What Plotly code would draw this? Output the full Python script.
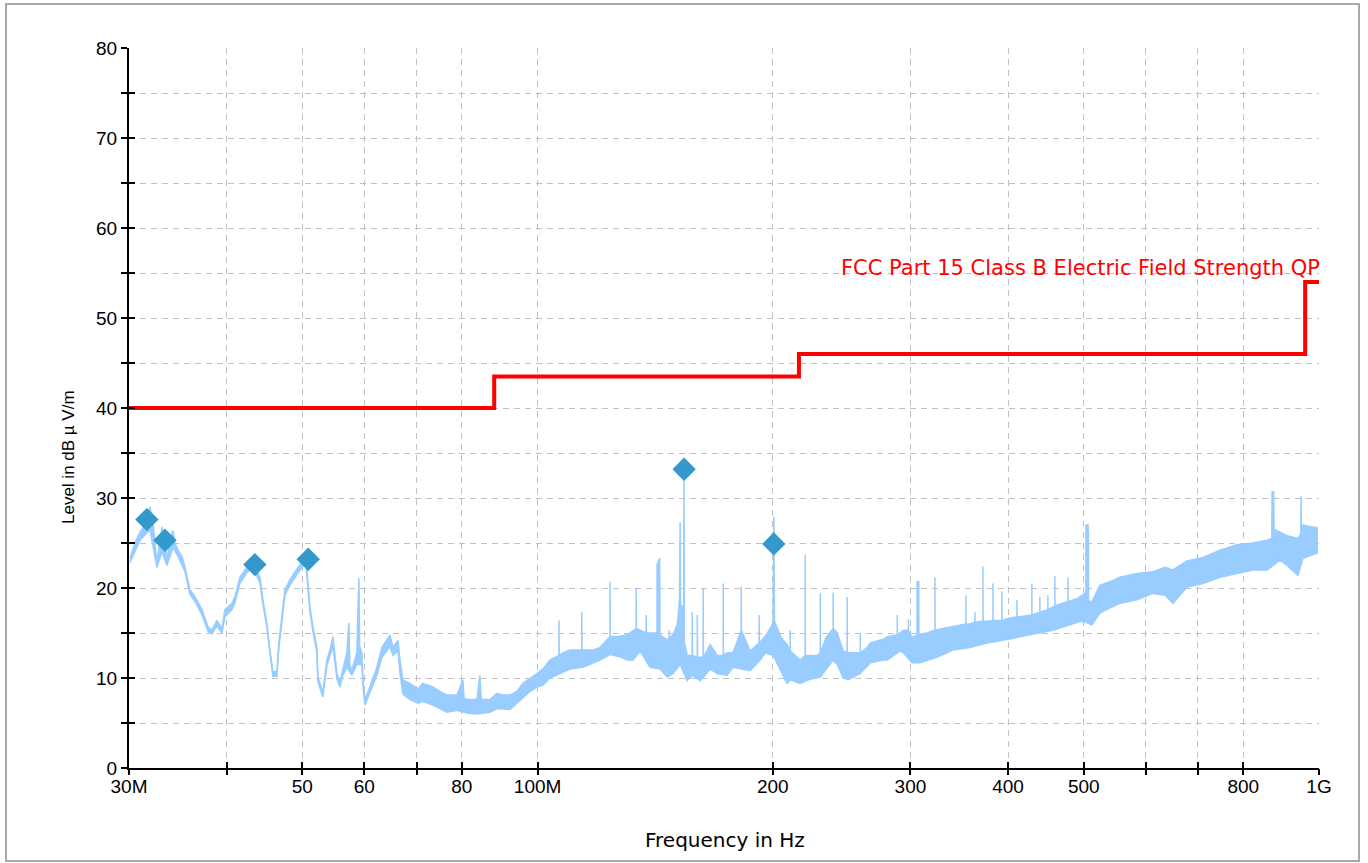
import math
import plotly.graph_objects as go

# ---------------- data (frequencies in MHz, levels in dBuV/m) ----------------
upper_freq_mhz = [
    30.09, 30.53, 30.99, 31.44, 31.91, 32.19, 32.57, 32.86, 33.06, 33.35, 33.55, 33.85,
    34.15, 34.36, 34.66, 35.07, 35.38, 35.90, 36.44, 37.20, 37.86, 38.30, 38.87, 39.45,
    39.80, 40.62, 40.98, 41.59, 42.45, 43.21, 44.12, 44.51, 45.04, 45.44, 45.84, 46.38,
    46.65, 47.07, 47.49, 48.19, 48.91, 49.63, 50.52, 51.12, 51.58, 52.19, 52.34, 53.12,
    53.75, 54.23, 54.71, 55.36, 55.85, 56.35, 57.01, 57.34, 57.50, 57.86, 58.71, 58.90,
    59.06, 59.20, 59.59, 59.77, 60.12, 61.01, 62.28, 63.21, 64.72, 65.30, 66.27, 66.66,
    67.25, 68.65, 70.28, 71.32, 73.45, 74.98, 76.55, 78.85, 80.24, 80.50, 81.20, 83.63,
    84.37, 84.70, 86.89, 88.71, 90.28, 92.18, 94.10, 95.78, 97.78, 99.81, 101.6, 103.7,
    106.5, 106.5, 106.6, 107.7, 110.0, 113.9, 113.9, 114.0, 117.7, 120.2, 123.8, 123.8,
    123.9, 127.0, 130.2, 133.7, 133.7, 133.8, 135.3, 137.7, 137.7, 137.8, 139.3, 142.2,
    142.2, 143.3, 143.4, 146.5, 147.4, 147.4, 147.5, 149.1, 151.0, 151.9, 152.2, 152.4,
    153.8, 153.95, 154.1, 155.4, 157.7, 157.7, 157.8, 160.1, 160.1, 160.2, 161.5, 162.9,
    162.9, 163.0, 166.3, 169.8, 172.8, 172.8, 172.9, 174.8, 177.9, 182.2, 182.2, 182.3,
    187.1, 192.1, 192.1, 192.2, 195.6, 200.2, 200.6, 201.0, 205.0, 208.6, 210.5, 210.5,
    210.6, 216.8, 220.0, 220.0, 220.1, 228.0, 230.0, 230.0, 230.1, 234.0, 238.9, 238.9,
    239.0, 241.8, 246.1, 249.0, 249.0, 249.1, 254.0, 258.8, 258.8, 258.9, 264.2, 266.6,
    276.9, 280.3, 288.6, 288.6, 288.7, 293.8, 298.2, 298.2, 298.3, 301.4, 305.9, 305.9,
    307.5, 307.6, 315.0, 322.5, 322.5, 322.6, 330.0, 340.1, 353.3, 353.3, 353.4, 357.5,
    362.8, 362.8, 362.9, 371.5, 371.5, 371.6, 375.9, 382.6, 382.6, 382.7, 392.8, 392.8,
    392.9, 400.0, 410.6, 410.6, 410.7, 414.2, 429.1, 429.1, 429.2, 435.4, 439.3, 439.3,
    439.4, 449.8, 449.8, 449.9, 456.5, 459.2, 459.2, 459.3, 470.0, 477.2, 477.2, 477.3,
    490.0, 500.0, 503.2, 503.2, 506.2, 507.0, 507.1, 512.2, 524.4, 540.1, 556.3, 584.9,
    613.2, 635.2, 650.4, 677.8, 710.5, 747.0, 785.4, 823.3, 858.0, 870.0, 871.0, 875.0,
    876.0, 891.5, 910.1, 939.9, 947.6, 948.4, 949.2, 953.9, 975.0, 997.0,
]
upper_level_db = [
    23.3, 25.0, 26.2, 27.0, 29.0, 27.5, 22.8, 25.0, 26.8, 25.2, 23.0, 25.5,
    26.4, 25.0, 24.2, 23.5, 22.3, 19.8, 19.0, 17.6, 15.7, 15.3, 16.4, 15.5,
    17.6, 18.3, 19.0, 21.2, 22.3, 22.9, 21.2, 18.7, 16.1, 13.1, 10.7, 10.7,
    13.9, 16.8, 19.8, 20.9, 21.8, 22.6, 23.4, 17.9, 15.7, 13.4, 10.1, 8.4,
    12.0, 13.1, 14.6, 10.5, 9.6, 10.9, 12.8, 16.1, 11.5, 10.9, 12.8, 17.6,
    21.1, 13.5, 12.8, 9.8, 7.6, 9.0, 11.2, 13.4, 14.8, 13.4, 14.2, 12.0,
    9.8, 9.4, 8.8, 9.4, 9.0, 8.5, 8.1, 8.1, 9.8, 7.8, 7.6, 7.6,
    10.3, 7.6, 7.6, 8.3, 8.1, 8.1, 8.5, 9.4, 10.0, 10.5, 11.0, 12.0,
    12.5, 16.4, 12.5, 12.8, 13.1, 13.1, 17.3, 13.1, 13.1, 13.4, 14.6, 20.7,
    14.6, 14.6, 14.8, 15.5, 20.0, 15.5, 15.3, 15.0, 17.0, 15.0, 15.0, 15.0,
    22.6, 23.3, 14.8, 14.2, 14.5, 15.3, 14.5, 14.8, 16.0, 18.7, 27.3, 18.0,
    18.0, 33.2, 14.0, 12.5, 12.5, 17.3, 12.5, 12.3, 17.0, 12.3, 12.3, 12.3,
    20.0, 12.3, 13.7, 12.5, 12.5, 20.5, 12.5, 12.8, 12.8, 15.3, 20.1, 15.3,
    13.0, 13.9, 17.0, 13.9, 14.6, 16.1, 27.9, 16.3, 14.5, 13.7, 13.0, 15.3,
    13.0, 12.0, 12.5, 23.7, 12.5, 12.5, 12.8, 19.4, 12.8, 14.5, 15.5, 19.5,
    15.5, 15.0, 13.0, 12.8, 19.0, 12.8, 12.8, 12.8, 15.0, 12.8, 13.4, 13.9,
    14.3, 14.6, 14.8, 17.0, 14.8, 15.3, 15.3, 16.5, 15.3, 14.5, 14.8, 20.7,
    20.7, 14.8, 15.0, 15.3, 21.2, 15.3, 15.5, 15.7, 16.0, 19.2, 16.0, 16.0,
    16.2, 17.3, 16.2, 16.3, 22.4, 16.3, 16.3, 16.4, 20.5, 16.4, 16.4, 19.6,
    16.4, 16.6, 16.8, 18.7, 16.8, 16.8, 17.0, 20.5, 17.0, 17.2, 17.3, 19.0,
    17.3, 17.6, 19.2, 17.6, 17.9, 18.0, 21.3, 18.0, 18.3, 18.5, 21.2, 18.5,
    18.8, 19.3, 19.5, 27.0, 27.0, 26.0, 18.5, 18.5, 20.3, 20.7, 21.2, 21.6,
    21.8, 22.3, 22.0, 23.0, 23.4, 24.2, 24.8, 25.0, 25.3, 25.5, 30.7, 30.7,
    26.5, 26.2, 25.8, 25.5, 26.0, 30.2, 26.5, 27.0, 26.8, 26.7,
]

lower_freq_mhz = [
    30.09, 30.99, 31.91, 32.57, 33.06, 33.55, 34.15, 34.66, 35.38, 35.90, 36.44, 37.20,
    37.86, 38.30, 38.87, 39.45, 39.80, 40.62, 40.98, 41.59, 42.45, 43.21, 44.12, 44.51,
    45.04, 45.44, 45.84, 46.38, 46.65, 47.07, 47.49, 48.19, 48.91, 49.63, 50.52, 51.12,
    51.58, 52.19, 52.34, 53.12, 53.75, 54.23, 54.71, 55.36, 55.85, 56.35, 57.01, 57.86,
    58.71, 59.59, 59.77, 60.12, 61.01, 62.28, 63.21, 64.72, 65.30, 66.27, 66.66, 67.25,
    68.65, 70.28, 71.32, 73.45, 74.98, 76.55, 78.85, 81.20, 83.63, 86.89, 88.71, 92.18,
    94.10, 95.78, 97.78, 99.81, 101.6, 103.7, 107.7, 110.0, 114.3, 117.7, 120.2, 123.8,
    127.0, 130.2, 132.5, 135.3, 139.3, 143.5, 146.5, 149.1, 152.2, 155.4, 157.7, 161.5,
    166.3, 169.8, 174.8, 177.9, 182.2, 187.1, 192.7, 195.6, 200.2, 204.0, 208.6, 210.5,
    216.8, 222.0, 230.0, 238.9, 241.8, 246.1, 249.8, 258.8, 266.6, 276.9, 280.3, 291.2,
    293.8, 301.4, 308.6, 324.4, 340.1, 357.5, 375.9, 394.0, 414.2, 435.4, 456.5, 480.0,
    494.4, 503.2, 512.2, 524.4, 540.1, 556.3, 584.9, 613.2, 635.2, 650.4, 677.8, 710.5,
    747.0, 785.4, 823.3, 858.0, 891.5, 910.1, 939.9, 953.9, 997.0,
]
lower_level_db = [
    22.8, 25.3, 26.5, 22.3, 24.0, 22.5, 24.5, 23.5, 21.8, 19.3, 18.5, 17.0,
    15.2, 14.9, 15.8, 15.0, 16.8, 17.6, 18.3, 20.5, 21.7, 22.3, 20.6, 18.2,
    15.6, 12.6, 10.2, 10.2, 13.3, 16.2, 19.2, 20.3, 21.2, 22.0, 22.8, 17.4,
    15.2, 12.8, 9.6, 7.9, 11.4, 12.5, 13.5, 9.9, 9.0, 10.3, 11.2, 10.3,
    11.5, 11.5, 9.2, 7.0, 8.3, 10.3, 12.3, 13.5, 12.5, 13.0, 10.5, 8.2,
    7.6, 7.2, 7.4, 7.0, 6.6, 6.2, 6.4, 6.1, 6.0, 6.2, 6.6, 6.5,
    7.2, 7.8, 8.5, 9.0, 9.2, 10.0, 10.6, 11.0, 11.2, 11.7, 12.0, 12.6,
    12.4, 12.0, 12.0, 13.0, 11.2, 11.0, 10.1, 10.5, 11.5, 9.7, 10.3, 9.7,
    11.0, 10.5, 10.3, 11.2, 11.0, 10.8, 12.0, 12.8, 12.5, 11.0, 9.4, 9.8,
    9.4, 9.8, 10.1, 12.0, 11.5, 10.0, 9.8, 10.5, 11.7, 12.0, 12.0, 13.0,
    12.8, 11.7, 11.7, 12.3, 13.1, 13.4, 13.9, 14.2, 14.6, 15.0, 15.3, 15.9,
    16.3, 16.2, 15.9, 17.2, 17.8, 18.3, 18.7, 19.4, 19.2, 18.3, 20.1, 20.5,
    21.2, 21.6, 22.0, 22.0, 23.1, 22.5, 21.4, 23.3, 23.9,
]

marker_freq_mhz = [31.62, 33.35, 43.47, 50.87, 154.0, 200.6]
marker_level_db = [27.6, 25.3, 22.6, 23.2, 33.2, 24.9]

limit_freq_mhz = [30, 88, 216, 960, 1000]
limit_level_db = [40, 43.5, 46, 54, 54]
limit_name = "FCC Part 15 Class B Electric Field Strength QP"

x_tick_vals = [30, 40, 50, 60, 70, 80, 100, 200, 300, 400, 500, 600, 700, 800, 1000]
x_tick_text = ["30M", "", "50", "60", "", "80", "100M", "200", "300", "400", "500", "", "", "800", "1G"]
y_tick_vals = [0, 5, 10, 15, 20, 25, 30, 35, 40, 45, 50, 55, 60, 65, 70, 75, 80]
y_tick_text = ["0", "", "10", "", "20", "", "30", "", "40", "", "50", "", "60", "", "70", "", "80"]

# ---------------- figure ----------------
FONT = "Liberation Sans, Arial, sans-serif"
WIDE = "DejaVu Sans, Verdana, sans-serif"
TRACE_BLUE = "#99ccff"
MARK_BLUE = "#3399cc"
GRID = "#c0c0c0"

fig = go.Figure()
fig.add_trace(go.Scatter(
    x=lower_freq_mhz, y=lower_level_db, mode="lines",
    line=dict(color=TRACE_BLUE, width=1.5), showlegend=False, hoverinfo="skip"))
fig.add_trace(go.Scatter(
    x=upper_freq_mhz, y=upper_level_db, mode="lines",
    line=dict(color=TRACE_BLUE, width=1.5), fill="tonexty", fillcolor=TRACE_BLUE,
    showlegend=False, name="Level"))
fig.add_trace(go.Scatter(
    x=limit_freq_mhz, y=limit_level_db, mode="lines",
    line=dict(color="#ff0000", width=4, shape="hv"), showlegend=False, name=limit_name))
fig.add_trace(go.Scatter(
    x=marker_freq_mhz, y=marker_level_db, mode="markers", xaxis="x2", yaxis="y2",
    marker=dict(symbol="diamond", size=18, color=MARK_BLUE, line=dict(width=0)),
    showlegend=False, name="Final"))

xr = [math.log10(30), math.log10(1000)]
common_x = dict(type="log", range=xr, tickvals=x_tick_vals, zeroline=False)
common_y = dict(range=[0, 80], tickvals=y_tick_vals, zeroline=False)

fig.update_layout(
    width=1368, height=863,
    margin=dict(l=129, r=49, t=48, b=95),
    paper_bgcolor="white", plot_bgcolor="white",
    font=dict(family=FONT, color="black", size=18),
    xaxis=dict(**common_x, ticktext=x_tick_text, ticks="inside", ticklen=6, tickwidth=2,
               tickcolor="black", showline=True, linewidth=2, linecolor="black",
               showgrid=True, gridcolor=GRID, gridwidth=1, griddash="6px,5px",
               tickfont=dict(size=19, family=FONT)),
    yaxis=dict(**common_y, ticktext=y_tick_text, ticks="outside", ticklen=6, tickwidth=2,
               tickcolor="black", showline=True, linewidth=2, linecolor="black",
               showgrid=True, gridcolor=GRID, gridwidth=1, griddash="6px,5px",
               tickfont=dict(size=19, family=FONT)),
    xaxis2=dict(**common_x, overlaying="x", anchor="y2", side="bottom", ticks="outside",
                ticklen=6, tickwidth=2, tickcolor="black", showticklabels=False,
                showgrid=False, showline=False),
    yaxis2=dict(**common_y, overlaying="y", anchor="x2", side="left", ticks="inside",
                ticklen=6, tickwidth=2, tickcolor="black", showticklabels=False,
                showgrid=False, showline=False),
    shapes=[dict(type="rect", xref="paper", yref="paper",
                 x0=(6 - 129) / 1190, x1=(1359 - 129) / 1190,
                 y0=(768 - 861) / 720, y1=(768 - 4) / 720,
                 line=dict(color="#a8a8a8", width=2), fillcolor="rgba(0,0,0,0)", layer="below")],
    annotations=[
        dict(text=limit_name, xref="paper", yref="y", x=(1322 - 129) / 1190, y=55.6,
             xanchor="right", yanchor="middle", showarrow=False,
             font=dict(color="#ff0000", size=21, family=WIDE)),
        dict(text="Frequency in Hz", xref="paper", yref="paper", x=(725 - 129) / 1190,
             y=(768 - 840) / 720, xanchor="center", yanchor="middle", showarrow=False,
             font=dict(size=20, family=WIDE)),
        dict(text="Level in dB \u00b5 V/m", xref="paper", yref="paper", x=(68 - 129) / 1190,
             y=(768 - 457) / 720, xanchor="center", yanchor="middle", textangle=-90,
             showarrow=False, font=dict(size=17, family=FONT)),
    ],
)

fig.write_html("out.html")
